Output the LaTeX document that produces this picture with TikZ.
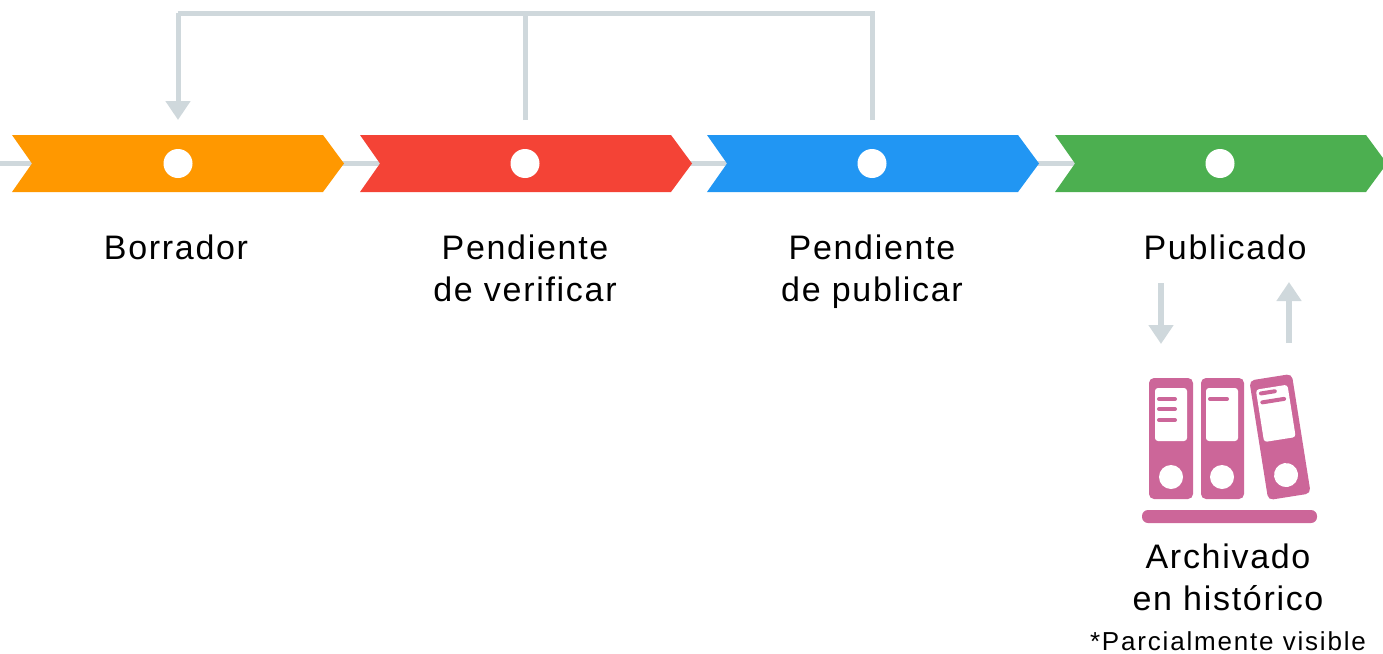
\documentclass[tikz,border=0pt]{standalone}
\usepackage{fontspec}
\setmainfont{Liberation Sans}
\usetikzlibrary{arrows.meta}
\definecolor{cgray}{HTML}{CFD8DC}
\definecolor{corange}{HTML}{FF9800}
\definecolor{cred}{HTML}{F44336}
\definecolor{cblue}{HTML}{2196F3}
\definecolor{cgreen}{HTML}{4CAF50}
\definecolor{cpink}{HTML}{CC6699}
\tikzset{
  conn/.style={draw=cgray, line width=5pt},
  connarrow/.style={draw=cgray, line width=5pt, -{Triangle[width=24pt,length=19pt]}},
  sidearrow/.style={draw=cgray, line width=6pt, -{Triangle[width=24pt,length=19pt]}},
  dot/.style={circle, fill=white, minimum size=29pt, inner sep=0pt},
  lbl/.style={font=\fontsize{34}{42}\selectfont\addfontfeature{LetterSpace=5}, align=center, inner sep=0pt},
  note/.style={font=\fontsize{26}{30}\selectfont\addfontfeature{LetterSpace=7}, inner sep=0pt},
  binder/.style={fill=cpink, rounded corners=5pt},
  binderwin/.style={fill=white, rounded corners=3pt},
  binderline/.style={draw=cpink, line width=4pt, line cap=round},
}
\newcommand{\chevron}[2]{%
  \fill[#2] (#1,135) -- (#1+311,135) -- (#1+332,163.5) -- (#1+311,192) -- (#1,192) -- (#1+20,163.5) -- cycle;}
\begin{document}
\begin{tikzpicture}[x=1pt,y=-1pt]
\useasboundingbox (0,0) rectangle (1383,653);
% base line
\coordinate (lstart) at (0,163.5);
\coordinate (lend) at (1383,163.5);
\draw[conn] (lstart) -- (lend);
% chevrons
\chevron{12}{corange}
\chevron{360}{cred}
\chevron{707}{cblue}
\chevron{1055}{cgreen}
\node[dot] (s1) at (178,163.5) {};
\node[dot] (s2) at (525,163.5) {};
\node[dot] (s3) at (872,163.5) {};
\node[dot] (s4) at (1220,163.5) {};
% feedback loop
\coordinate (t1) at (178,120);
\coordinate (t2) at (525,120);
\coordinate (t3) at (872,120);
\coordinate (h1) at (178,13);
\coordinate (h2) at (525,13);
\coordinate (h3) at (872,13);
\draw[conn] (t3) -- (h3) -- (h1);
\draw[conn] (t2) -- (h2);
\draw[connarrow] (h1) -- (t1);
% labels
\node[lbl, anchor=base] (l1) at (176,259) {Borrador};
\node[lbl, anchor=north] (l2) at (525,235) {Pendiente\\de verificar};
\node[lbl, anchor=north] (l3) at (872,235) {Pendiente\\de publicar};
\node[lbl, anchor=base] (l4) at (1225,259) {Publicado};
% side arrows
\coordinate (d1) at (1161,283);
\coordinate (d2) at (1161,344);
\coordinate (u1) at (1289,343);
\coordinate (u2) at (1289,282);
\draw[sidearrow] (d1) -- (d2);
\draw[sidearrow] (u1) -- (u2);
% binders
\fill[binder] (1149,378) rectangle (1193,499);
\fill[binderwin] (1155,388) rectangle (1187,441);
\fill[white] (1171,477) circle (12);
\draw[binderline] (1159,399) -- (1175,399);
\draw[binderline] (1159,409) -- (1175,409);
\draw[binderline] (1159,420) -- (1175,420);
\fill[binder] (1201,378) rectangle (1244,499);
\fill[binderwin] (1206,388) rectangle (1238,441);
\fill[white] (1222,477) circle (12);
\draw[binderline] (1210,399) -- (1227,399);
\begin{scope}[shift={(1280,437)}, rotate=9]
\fill[binder] (-21.5,-60.5) rectangle (21.5,60.5);
\fill[binderwin] (-16.5,-50.5) rectangle (15.5,2.5);
\fill[white] (0,38.5) circle (12);
\draw[binderline] (-12,-46) -- (2,-46);
\draw[binderline] (-12,-37) -- (10,-37);
\end{scope}
\fill[binder, rounded corners=6pt] (1142,510) rectangle (1317,523);
\node[lbl, anchor=north] (l5) at (1228,544) {Archivado\\en histórico};
\node[note, anchor=base] (l6) at (1228,650) {*Parcialmente visible};
\end{tikzpicture}
\end{document}
